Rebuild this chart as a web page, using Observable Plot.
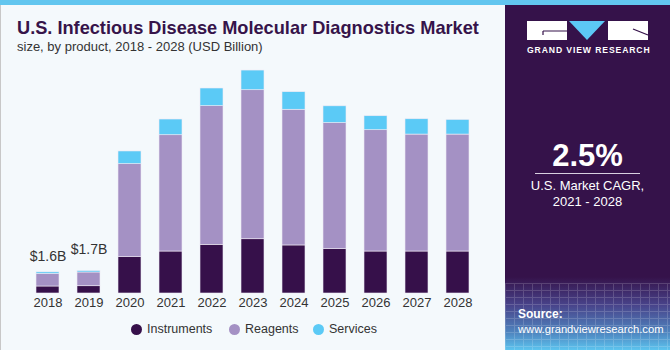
<!DOCTYPE html>
<html>
<head>
<meta charset="utf-8">
<script src="https://cdn.jsdelivr.net/npm/d3@7"></script>
<script src="https://cdn.jsdelivr.net/npm/@observablehq/plot@0.6"></script>
<style>
  html, body { margin: 0; padding: 0; }
  body { width: 670px; height: 350px; overflow: hidden; font-family: "Liberation Sans", Arial, sans-serif; }
  #wrap { position: relative; width: 670px; height: 350px; background: #f4f9fc; box-sizing: border-box; }
  #topbar { position: absolute; left: 0; top: 0; width: 670px; height: 5px; background: #62c6ef; }
  #lborder { position: absolute; left: 0; top: 5px; width: 1px; height: 345px; background: #c8c8c8; }
  #title { position: absolute; left: 17px; top: 18px; font-size: 18.2px; font-weight: bold; color: #36144a; white-space: nowrap; }
  #subtitle { position: absolute; left: 17px; top: 39px; font-size: 13px; color: #333; white-space: nowrap; }
  #chart { position: absolute; left: 0; top: 60px; }
  #legend { position: absolute; top: 321px; left: 0; width: 505px; height: 16px; font-size: 12.5px; color: #333; }
  .li { position: absolute; top: 0; white-space: nowrap; line-height: 16px; }
  .dot { position: absolute; width: 11px; height: 11px; border-radius: 50%; top: 3px; }
  #panel { position: absolute; left: 505px; top: 5px; width: 165px; height: 345px; background: linear-gradient(to bottom, #35124a 0px, #35124a 272px, #48438a 300px, #4f86c0 328px, #5cc4ef 345px); overflow: hidden; }
  #grid { position: absolute; left: 0; top: 278px; width: 165px; height: 67px; opacity: 0.16;
    background-image: repeating-linear-gradient(to right, #ffffff 0 1px, transparent 1px 9px), repeating-linear-gradient(to bottom, #ffffff 0 1px, transparent 1px 7px); }
  #gvr { position: absolute; left: 22px; top: 40px; font-size: 8.6px; font-weight: bold; color: #fff; letter-spacing: 0.9px; white-space: nowrap; }
  #cagr { position: absolute; left: 0; width: 165px; top: 133px; text-align: center; font-size: 31px; font-weight: bold; color: #fff; }
  #rule { position: absolute; left: 30px; top: 168px; width: 105px; height: 1px; background: #d8d0e0; }
  #cagrtxt { position: absolute; left: 0; width: 165px; top: 173px; text-align: center; font-size: 13px; color: #fff; line-height: 16px; }
  #src { position: absolute; left: 13px; top: 302px; font-size: 11.2px; color: #fff; line-height: 15px; white-space: nowrap; }
  #src b { font-size: 12px; }
</style>
</head>
<body>
<div id="wrap">
  <div id="topbar"></div>
  <div id="lborder"></div>
  <div id="title">U.S. Infectious Disease Molecular Diagnostics Market</div>
  <div id="subtitle">size, by product, 2018 - 2028 (USD Billion)</div>
  <div id="chart"></div>
  <div id="legend"></div>
  <div id="panel">
    <svg width="165" height="40" style="position:absolute;left:0;top:0">
      <rect x="22" y="16" width="40" height="19" fill="#fff"/>
      <path d="M38 26 H62 M38 26 V30" stroke="#35124a" stroke-width="1.2" fill="none"/>
      <polygon points="64,16 100,16 82,35" fill="#5cc8f5"/>
      <rect x="103" y="16" width="40" height="19" fill="#fff"/>
      <path d="M128 24 L143 30" stroke="#35124a" stroke-width="1.2" fill="none"/>
    </svg>
    <div id="gvr">GRAND VIEW RESEARCH</div>
    <div id="cagr">2.5%</div>
    <div id="rule"></div>
    <div id="cagrtxt">U.S. Market CAGR,<br>2021 - 2028</div>
    <div id="grid"></div>
    <div id="src"><b>Source:</b><br>www.grandviewresearch.com</div>
  </div>
</div>
<script>
const years = ["2018","2019","2020","2021","2022","2023","2024","2025","2026","2027","2028"];
const instruments = [0.53, 0.55, 2.75, 3.18, 3.69, 4.11, 3.64, 3.36, 3.18, 3.18, 3.18];
const reagents    = [0.95, 1.04, 7.05, 8.81, 10.50, 11.29, 10.28, 9.55, 9.19, 8.86, 8.86];
const services    = [0.12, 0.11, 0.96, 1.19, 1.34, 1.49, 1.33, 1.27, 1.06, 1.16, 1.11];
const segments = ["Instruments", "Reagents", "Services"];
const colors = ["#36104a", "#a491c4", "#5bcaf6"];
const labelYears = ["2018", "2019"];
const labelTexts = ["$1.6B", "$1.7B"];

const rows = [];
years.forEach((y, i) => {
  rows.push({year: y, segment: "Instruments", value: instruments[i]});
  rows.push({year: y, segment: "Reagents", value: reagents[i]});
  rows.push({year: y, segment: "Services", value: services[i]});
});
const totals = years.map((y, i) => ({year: y, total: instruments[i] + reagents[i] + services[i]}));
const labels = labelYears.map((y, i) => ({year: y, text: labelTexts[i], total: totals[years.indexOf(y)].total}));

const chart = Plot.plot({
  width: 505,
  height: 255,
  marginLeft: 13,
  marginRight: 12,
  marginTop: 8.6,
  marginBottom: 22,
  style: {background: "transparent", fontFamily: "Liberation Sans, Arial, sans-serif", fontSize: "13px", color: "#333"},
  x: {domain: years, padding: 0.43, label: null, tickSize: 0, tickPadding: 4},
  y: {domain: [0, 17], axis: null},
  color: {domain: segments, range: colors},
  marks: [
    Plot.barY(rows, Plot.stackY({x: "year", y: "value", fill: "segment", order: segments, stroke: "#efe9f4", strokeWidth: 0.6})),
    Plot.text(labels.slice(0, 1), {x: "year", y: "total", text: "text", dy: -16, fontSize: 14, fill: "#333"}),
    Plot.text(labels.slice(1), {x: "year", y: "total", text: "text", dy: -22, fontSize: 14, fill: "#333"})
  ]
});
document.getElementById("chart").appendChild(chart);

const legend = document.getElementById("legend");
const legendPos = [[131, 147], [229, 245], [313, 329]];
segments.forEach((s, i) => {
  const d = document.createElement("div");
  d.className = "dot";
  d.style.left = legendPos[i][0] + "px";
  d.style.background = colors[i];
  legend.appendChild(d);
  const t = document.createElement("div");
  t.className = "li";
  t.style.left = legendPos[i][1] + "px";
  t.textContent = s;
  legend.appendChild(t);
});
</script>
</body>
</html>
